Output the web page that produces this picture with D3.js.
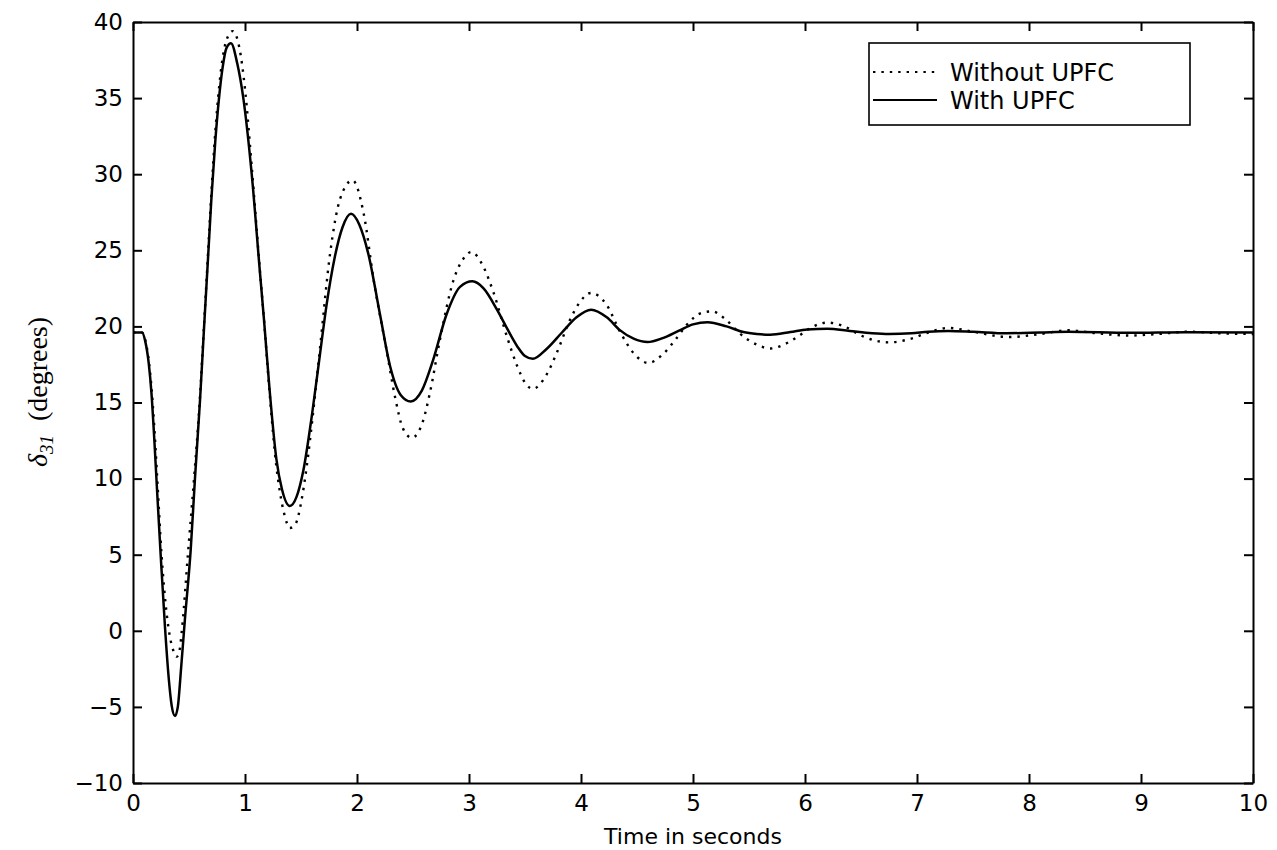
<!DOCTYPE html>
<html>
<head>
<meta charset="utf-8">
<script src="https://cdn.jsdelivr.net/npm/d3@7"></script>
<style>
  body { margin: 0; background: #fff; }
  .axis text { font-family: "DejaVu Sans", sans-serif; font-size: 23px; fill: #000; }
  .axis path, .axis line { stroke: #000; stroke-width: 2px; }
</style>
</head>
<body>
<svg id="chart" width="1277" height="850"></svg>
<script>
// Rotor angle (degrees), [time s, value]
const withUpfc = [
  [0, 19.6], [0.08, 19.6], [0.11, 19.0], [0.14, 17.6], [0.165, 15.6], [0.19, 12.6],
  [0.215, 9.2], [0.247, 5.0], [0.286, 0.2], [0.32, -3.2], [0.345, -4.9], [0.375, -5.6],
  [0.40, -5.0], [0.43, -2.4], [0.464, 0.8], [0.515, 5.3], [0.554, 10.1], [0.598, 15.1],
  [0.635, 20.0], [0.67, 24.5], [0.70, 28.4], [0.735, 32.2], [0.768, 35.0], [0.80, 37.0],
  [0.835, 38.3], [0.875, 38.6], [0.93, 37.3], [0.985, 35.0], [1.06, 30.0], [1.134, 23.5],
  [1.17, 20.4], [1.22, 15.8], [1.28, 11.3], [1.33, 9.3], [1.40, 8.2], [1.46, 8.8],
  [1.52, 10.5], [1.6, 14.3], [1.67, 18.2], [1.73, 21.5], [1.80, 24.5], [1.87, 26.5],
  [1.946, 27.4], [2.02, 26.7], [2.10, 24.8], [2.205, 20.8], [2.295, 17.4], [2.39, 15.5],
  [2.48, 15.07], [2.58, 15.8], [2.68, 17.8], [2.80, 20.8], [2.92, 22.6], [3.03, 22.96],
  [3.13, 22.5], [3.25, 21.1], [3.33, 20.0], [3.43, 18.7], [3.50, 18.05], [3.57, 17.87],
  [3.69, 18.5], [3.83, 19.6], [3.96, 20.6], [4.09, 21.1], [4.23, 20.6], [4.35, 19.74],
  [4.47, 19.19], [4.595, 18.97], [4.73, 19.23], [4.88, 19.74], [5.0, 20.13], [5.13, 20.28],
  [5.30, 20.0], [5.45, 19.63], [5.57, 19.5], [5.69, 19.45], [5.87, 19.63], [6.02, 19.8],
  [6.2, 19.85], [6.4, 19.7], [6.6, 19.55], [6.75, 19.5], [6.95, 19.55], [7.1, 19.65],
  [7.28, 19.7], [7.5, 19.65], [7.8, 19.55], [8.1, 19.6], [8.35, 19.65], [8.9, 19.58],
  [9.4, 19.62], [10, 19.6]
];

const withoutUpfc = [
  [0, 19.6], [0.08, 19.6], [0.11, 19.1], [0.14, 17.8], [0.165, 16.0], [0.19, 13.4],
  [0.215, 10.2], [0.255, 5.0], [0.295, 1.5], [0.33, -0.4], [0.365, -1.4], [0.39, -1.7],
  [0.415, -1.3], [0.44, 0.3], [0.49, 5.0], [0.545, 10.0], [0.595, 15.0], [0.635, 20.2],
  [0.67, 24.8], [0.70, 28.8], [0.735, 32.8], [0.77, 35.8], [0.83, 38.7], [0.89, 39.4],
  [0.95, 38.3], [1.0, 35.6], [1.06, 30.5], [1.134, 23.6], [1.17, 20.4], [1.22, 15.6],
  [1.28, 10.8], [1.31, 9.2], [1.357, 7.5], [1.40, 6.75], [1.45, 7.0], [1.51, 8.8],
  [1.56, 11.3], [1.6, 13.8], [1.67, 18.6], [1.76, 24.8], [1.85, 28.4], [1.96, 29.6],
  [2.06, 27.4], [2.15, 23.0], [2.265, 18.4], [2.34, 15.35], [2.41, 13.3], [2.49, 12.68],
  [2.59, 13.8], [2.65, 15.6], [2.74, 19.1], [2.86, 23.0], [2.95, 24.45], [3.02, 24.89],
  [3.13, 23.9], [3.22, 22.2], [3.34, 19.3], [3.43, 17.4], [3.51, 16.2], [3.57, 15.9],
  [3.69, 16.8], [3.78, 18.2], [3.90, 20.4], [3.99, 21.6], [4.09, 22.2], [4.23, 21.4],
  [4.35, 19.63], [4.47, 18.24], [4.60, 17.6], [4.73, 18.16], [4.84, 19.1], [4.94, 20.07],
  [5.08, 20.9], [5.17, 20.99], [5.30, 20.4], [5.42, 19.52], [5.57, 18.8], [5.69, 18.55],
  [5.81, 18.8], [5.95, 19.4], [6.05, 19.9], [6.2, 20.25], [6.35, 20.0], [6.5, 19.4],
  [6.75, 18.95], [6.95, 19.2], [7.1, 19.6], [7.28, 19.9], [7.5, 19.65], [7.82, 19.3],
  [8.1, 19.5], [8.35, 19.75], [8.6, 19.55], [8.9, 19.4], [9.15, 19.5], [9.43, 19.65],
  [9.7, 19.55], [10, 19.5]
];

const xTicks = [0, 1, 2, 3, 4, 5, 6, 7, 8, 9, 10];
const yTicks = [-10, -5, 0, 5, 10, 15, 20, 25, 30, 35, 40];
const legendLabels = ['Without UPFC', 'With UPFC'];

const margin = { top: 22, right: 24, bottom: 67, left: 133 };
const svg = d3.select('#chart');
const width = 1277 - margin.left - margin.right;
const height = 850 - margin.top - margin.bottom;

const x = d3.scaleLinear().domain([0, 10]).range([0, width]);
const y = d3.scaleLinear().domain([-10, 40]).range([height, 0]);

const g = svg.append('g')
  .attr('transform', `translate(${margin.left},${margin.top})`);

// Axes, ticks pointing inward on all four sides
g.append('g')
  .attr('class', 'axis')
  .attr('transform', `translate(0,${height})`)
  .call(d3.axisBottom(x).tickValues(xTicks).tickSizeInner(-9).tickSizeOuter(0).tickPadding(12));
g.append('g')
  .attr('class', 'axis')
  .call(d3.axisLeft(y).tickValues(yTicks).tickSizeInner(-9).tickSizeOuter(0).tickPadding(10)
    .tickFormat(d => d < 0 ? '\u2212' + Math.abs(d) : d));
g.append('g')
  .attr('class', 'axis')
  .call(d3.axisTop(x).tickValues(xTicks).tickSizeInner(-9).tickSizeOuter(0).tickFormat(''));
g.append('g')
  .attr('class', 'axis')
  .attr('transform', `translate(${width},0)`)
  .call(d3.axisRight(y).tickValues(yTicks).tickSizeInner(-9).tickSizeOuter(0).tickFormat(''));

// Curves
const line = d3.line()
  .x(d => x(d[0]))
  .y(d => y(d[1]))
  .curve(d3.curveMonotoneX);

g.append('path')
  .datum(withoutUpfc)
  .attr('fill', 'none')
  .attr('stroke', '#000')
  .attr('stroke-width', 2.4)
  .attr('stroke-dasharray', '2.4,6')
  .attr('d', line);

g.append('path')
  .datum(withUpfc)
  .attr('fill', 'none')
  .attr('stroke', '#000')
  .attr('stroke-width', 2.5)
  .attr('d', line);

// Axis titles
svg.append('text')
  .attr('x', margin.left + width / 2)
  .attr('y', 844)
  .attr('text-anchor', 'middle')
  .style('font-family', '"DejaVu Sans", sans-serif')
  .style('font-size', '22px')
  .text('Time in seconds');

const yTitle = svg.append('text')
  .attr('transform', 'translate(47,392) rotate(-90)')
  .attr('text-anchor', 'middle')
  .style('font-family', '"Liberation Serif", serif')
  .style('font-size', '28px');
yTitle.append('tspan').style('font-style', 'italic').text('\u03b4');
yTitle.append('tspan').style('font-style', 'italic').style('font-size', '19px')
  .attr('dy', 6).text('31');
yTitle.append('tspan').attr('dy', -6).text('\u2002(degrees)');

// Legend
const legend = svg.append('g').attr('transform', 'translate(869,43)');
legend.append('rect')
  .attr('width', 321)
  .attr('height', 82)
  .attr('fill', '#fff')
  .attr('stroke', '#000')
  .attr('stroke-width', 1.6);
legendLabels.forEach((label, i) => {
  const ly = 29 + i * 28;
  legend.append('line')
    .attr('x1', 4).attr('x2', 68)
    .attr('y1', ly).attr('y2', ly)
    .attr('stroke', '#000')
    .attr('stroke-width', 2.2)
    .attr('stroke-dasharray', i === 0 ? '2.4,6' : null);
  legend.append('text')
    .attr('x', 81)
    .attr('y', ly + 9)
    .style('font-family', '"DejaVu Sans", sans-serif')
    .style('font-size', '24px')
    .text(label);
});
</script>
</body>
</html>
